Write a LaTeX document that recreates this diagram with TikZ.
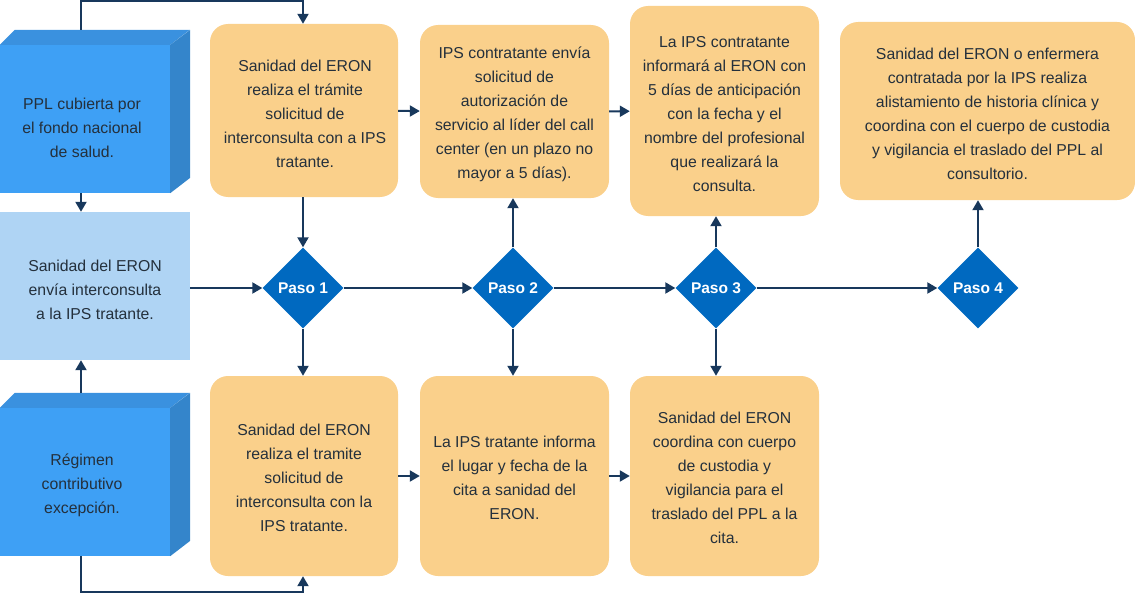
\documentclass[tikz,border=0pt]{standalone}
\usepackage{fontspec}
\setmainfont{Liberation Sans}
\usetikzlibrary{positioning}
\usetikzlibrary{arrows.meta,shapes.geometric}
\usetikzlibrary{calc}
\definecolor{frontblue}{HTML}{3EA0F5}
\definecolor{topblue}{HTML}{3A91DF}
\definecolor{sideblue}{HTML}{3485CB}
\definecolor{lightblue}{HTML}{AFD4F4}
\definecolor{stepfill}{HTML}{FAD08B}
\definecolor{pasoblue}{HTML}{0069C0}
\definecolor{linecol}{HTML}{18385C}
\definecolor{txtcol}{HTML}{24303C}
\tikzstyle{boxtext}=[text=txtcol,align=center,inner sep=0pt,font=\fontsize{15.8}{24}\selectfont]
\tikzstyle{frontbox}=[rectangle,fill=frontblue,minimum width=170pt,minimum height=148pt]
\tikzstyle{flatbox}=[rectangle,fill=lightblue,minimum width=190pt,minimum height=148pt]
\tikzstyle{stepbox}=[rectangle,rounded corners=18pt,fill=stepfill]
\tikzstyle{paso}=[diamond,fill=pasoblue,text=white,inner sep=0pt,minimum width=81pt,minimum height=81pt,font=\fontsize{15.5}{16}\selectfont\bfseries]
\tikzstyle{flow}=[draw=linecol,line width=2pt,-{Triangle[length=10pt,width=11pt]}]

\begin{document}
\begin{tikzpicture}[x=1pt,y=-1pt]
    \useasboundingbox (0,0) rectangle (1135,594);

    % left column
    \node[frontbox] (ppl) at (85,119) {};
    \fill[topblue] (ppl.north west) -- ++(15,-15) -- ++(175,0) -- (ppl.north east) -- cycle;
    \fill[sideblue] (ppl.north east) -- ++(20,-15) -- ++(0,148) -- (ppl.south east) -- cycle;
    \node[boxtext] (ppltxt) at ($(ppl)+(-3,9)$) {PPL cubierta por\\el fondo nacional\\de salud.};
    \node[flatbox] (eron) at (95,286) {};
    \node[boxtext] (erontxt) at ($(eron)+(0,4)$) {Sanidad del ERON\\envía interconsulta\\a la IPS tratante.};
    \node[frontbox] (reg) at (85,482) {};
    \fill[topblue] (reg.north west) -- ++(15,-15) -- ++(175,0) -- (reg.north east) -- cycle;
    \fill[sideblue] (reg.north east) -- ++(20,-15) -- ++(0,148) -- (reg.south east) -- cycle;
    \node[boxtext] (regtxt) at ($(reg)+(-3,3)$) {Régimen\\contributivo\\excepción.};

    % steps
    \foreach \pos/\name/\label in {{(303,288)/p1/1}, {(513,288)/p2/2}, {(716,288)/p3/3}, {(978,288)/p4/4}}
        \node[paso] (\name) at \pos {Paso \label};

    % upper boxes
    \node[stepbox,minimum width=188pt,minimum height=173pt] (o1) at (304,110.5) {};
    \node[boxtext] (o1txt) at (305,114) {Sanidad del ERON\\realiza el trámite\\solicitud de\\interconsulta con a IPS\\tratante.};
    \node[stepbox,minimum width=189pt,minimum height=173pt] (o2) at (514.5,111.5) {};
    \node[boxtext] (o2txt) at (514.5,114) {IPS contratante envía\\solicitud de\\autorización de\\servicio al líder del call\\center (en un plazo no\\mayor a 5 días).};
    \node[stepbox,minimum width=189pt,minimum height=210pt] (o3) at (724.5,111) {};
    \node[boxtext] (o3txt) at (724.5,114) {La IPS contratante\\informará al ERON con\\5 días de anticipación\\con la fecha y el\\nombre del profesional\\que realizará la\\consulta.};
    \node[stepbox,minimum width=295pt,minimum height=178pt] (o4) at (987.5,111) {};
    \node[boxtext] (o4txt) at (987.5,113.5) {Sanidad del ERON o enfermera\\contratada por la IPS realiza\\alistamiento de historia clínica y\\coordina con el cuerpo de custodia\\y vigilancia el traslado del PPL al\\consultorio.};

    % lower boxes
    \node[stepbox,minimum width=188pt,minimum height=200pt] (b1) at (304,476) {};
    \node[boxtext] (b1txt) at (304,477.5) {Sanidad del ERON\\realiza el tramite\\solicitud de\\interconsulta con la\\IPS tratante.};
    \node[stepbox,minimum width=189pt,minimum height=200pt] (b2) at (514.5,476) {};
    \node[boxtext] (b2txt) at (514.5,477.5) {La IPS tratante informa\\el lugar y fecha de la\\cita a sanidad del\\ERON.};
    \node[stepbox,minimum width=189pt,minimum height=200pt] (b3) at (724.5,476) {};
    \node[boxtext] (b3txt) at (724.5,477.5) {Sanidad del ERON\\coordina con cuerpo\\de custodia y\\vigilancia para el\\traslado del PPL a la\\cita.};

    % connectors
    \coordinate (lx) at (81,0);
    \coordinate (toploop) at (81,1.5);
    \coordinate (botloop) at (81,591.5);
    \draw[flow] (lx |- 0,30) -- (toploop) -| (p1 |- o1.north);
    \draw[flow] (lx |- 0,556) -- (botloop) -| (p1 |- b1.south);
    \draw[flow] (lx |- ppl.south) -- (lx |- eron.north);
    \draw[flow] (lx |- 0,393) -- (lx |- eron.south);
    \draw[flow] (eron.east |- p1) -- (p1.west);
    \foreach \source/\dest in {p1/p2, p2/p3, p3/p4, o1/o2, o2/o3, b1/b2, b2/b3}
        \path[flow] (\source) -- (\dest);
    \draw[flow] (p1 |- o1.south) -- (p1.north);
    \draw[flow] (p1.south) -- (p1 |- b1.north);
    \foreach \step/\up/\down in {p2/o2/b2, p3/o3/b3}
    {
        \draw[flow] (\step.north) -- (\step |- \up.south);
        \draw[flow] (\step.south) -- (\step |- \down.north);
    }
    \draw[flow] (p4.north) -- (p4 |- o4.south);
\end{tikzpicture}
\end{document}
